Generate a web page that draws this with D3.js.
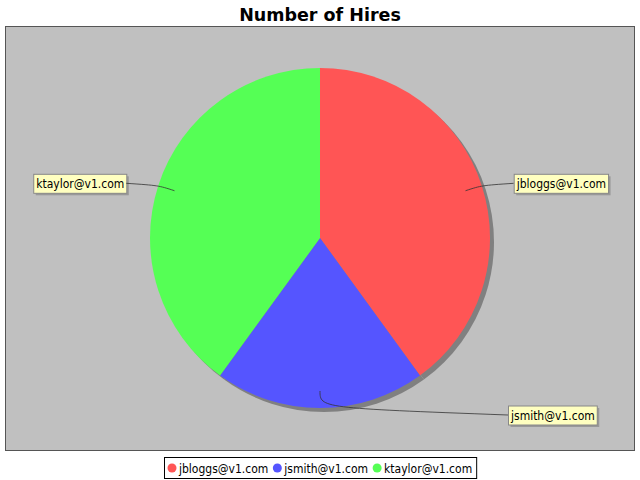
<!DOCTYPE html>
<html><head><meta charset="utf-8">
<script src="https://cdn.jsdelivr.net/npm/d3@7"></script>
<style>body{margin:0;background:#fff}svg{display:block}</style>
</head><body>
<svg id="c" width="640" height="480"></svg>
<script>
const title = "Number of Hires";
const categories = ["jbloggs@v1.com", "jsmith@v1.com", "ktaylor@v1.com"];
const values = [2, 1, 2];
const colors = ["#FF5555", "#5555FF", "#55FF55"];

const svg = d3.select("#c");
const W = 640, H = 480;
const font = "'DejaVu Sans Condensed', 'DejaVu Sans', sans-serif";

svg.append("text").attr("x", W/2).attr("y", 21).attr("text-anchor", "middle")
  .attr("font-family", "'DejaVu Sans', sans-serif").attr("font-weight", "bold")
  .attr("font-size", 17.5).attr("fill", "#000").text(title);

// plot area
svg.append("rect").attr("x", 5.5).attr("y", 26.5).attr("width", 629).attr("height", 424)
  .attr("fill", "#C0C0C0").attr("stroke", "#555").attr("stroke-width", 1);

const cx = 320, cy = 238, R = 170;
const data = categories.map((c, i) => ({name: c, value: values[i], color: colors[i]}));
const pie = d3.pie().value(d => d.value).sort(null);
const arcs = pie(data);
const arc = d3.arc().innerRadius(0).outerRadius(R);

// shadow
svg.append("g").attr("transform", `translate(${cx+4},${cy+4})`)
  .selectAll("path").data(arcs).join("path").attr("d", arc).attr("fill", "#808080");

svg.append("g").attr("transform", `translate(${cx},${cy})`)
  .selectAll("path").data(arcs).join("path").attr("d", arc)
  .attr("fill", d => d.data.color);

// labels
const lg = svg.append("g");
arcs.forEach(a => {
  const mid = (a.startAngle + a.endAngle) / 2;
  const sx = Math.sin(mid), sy = -Math.cos(mid);
  const ax = cx + sx * R * 0.9, ay = cy + sy * R * 0.9;
  const ex = cx + sx * R, ey = cy + sy * R;
  const right = sx >= -1e-6;
  const tx = cx + (right ? 1 : -1) * (188 + 6 * Math.abs(sx));
  const ty = cy + sy * 177;
  lg.append("path")
    .attr("d", `M${ax},${ay}C${ex},${ey} ${ex},${ey} ${tx},${ty}`)
    .attr("fill", "none").attr("stroke", "#333").attr("stroke-width", 0.8);
  const t = lg.append("text").attr("font-family", font).attr("font-size", 12)
    .attr("fill", "#000").text(a.data.name);
  const tw = t.node().getComputedTextLength();
  const bw = tw + 5, bh = 19;
  const bx = right ? tx : tx - bw, by = ty - bh / 2;
  lg.insert("rect", "text").attr("x", bx + 2.5).attr("y", by + 2.5).attr("width", bw).attr("height", bh)
    .attr("fill", "#999");
  lg.insert("rect", "text").attr("x", bx + 0.5).attr("y", by + 0.5).attr("width", bw).attr("height", bh)
    .attr("fill", "#FFFFC0").attr("stroke", "#888");
  t.attr("x", bx + 3).attr("y", by + 14);
});

// legend
const leg = svg.append("g");
let x = 0;
data.forEach((d, i) => {
  const g = leg.append("g");
  g.append("circle").attr("cx", x + 4).attr("cy", 0).attr("r", 4.5).attr("fill", d.color);
  const t = g.append("text").attr("x", x + 11).attr("y", 4.5).attr("font-family", font)
    .attr("font-size", 12).attr("fill", "#000").text(d.name);
  x += 11 + t.node().getComputedTextLength() + 5;
});
const lw = x - 5 + 8;
const lx = Math.round(W / 2 - lw / 2);
leg.attr("transform", `translate(${lx + 4},468)`);
svg.insert("rect", "g").attr("x", lx + 0.5).attr("y", 457.5).attr("width", lw).attr("height", 21)
  .attr("fill", "#fff").attr("stroke", "#000");
</script>
</body></html>
